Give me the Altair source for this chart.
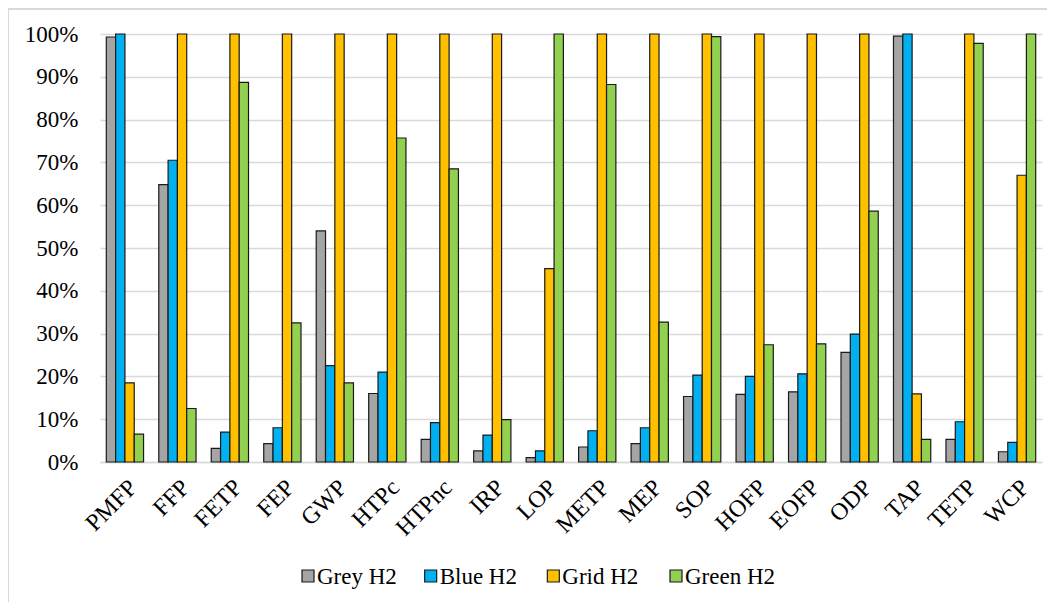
import altair as alt
import pandas as pd

categories = ["PMFP", "FFP", "FETP", "FEP", "GWP", "HTPc", "HTPnc", "IRP", "LOP",
              "METP", "MEP", "SOP", "HOFP", "EOFP", "ODP", "TAP", "TETP", "WCP"]
series = ["Grey H2", "Blue H2", "Grid H2", "Green H2"]
colors = ["#A5A5A5", "#00B0F0", "#FFC000", "#92D050"]

grey = [99.3, 64.8, 3.2, 4.3, 54.0, 16.0, 5.3, 2.6, 1.0, 3.5, 4.3, 15.3, 15.8, 16.4, 25.6, 99.5, 5.3, 2.4]
blue = [100, 70.5, 7.0, 8.0, 22.5, 21.0, 9.2, 6.3, 2.6, 7.3, 8.0, 20.3, 20.0, 20.6, 29.9, 100, 9.4, 4.6]
grid = [18.5, 100, 100, 100, 100, 100, 100, 100, 45.2, 100, 100, 100, 100, 100, 100, 15.9, 100, 67.0]
green = [6.5, 12.5, 88.7, 32.5, 18.5, 75.7, 68.5, 9.9, 100, 88.2, 32.7, 99.4, 27.4, 27.6, 58.6, 5.3, 97.8, 100]

rows = []
for s, vals in zip(series, [grey, blue, grid, green]):
    for c, v in zip(categories, vals):
        rows.append({"cat": c, "series": s, "value": v / 100.0})
df = pd.DataFrame(rows)
legend_df = pd.DataFrame({"series": series})

FONT = "Liberation Serif"
color_scale = alt.Scale(domain=series, range=colors)

bars = alt.Chart(df).mark_bar(stroke="#1A1A1A", strokeWidth=1.2).encode(
    x=alt.X("cat:N", sort=categories, title=None,
            scale=alt.Scale(paddingInner=0.29, paddingOuter=0.12),
            axis=alt.Axis(labelAngle=-45, labelFont=FONT, labelFontSize=24,
                          labelColor="#000000", ticks=False, domain=True,
                          domainColor="#D9D9D9", domainWidth=1.5, labelPadding=13)),
    xOffset=alt.XOffset("series:N", sort=series,
                        scale=alt.Scale(paddingInner=0, paddingOuter=0)),
    y=alt.Y("value:Q", title=None,
            scale=alt.Scale(domain=[0, 1], nice=False),
            axis=alt.Axis(format=".0%", values=[i / 10 for i in range(11)],
                          labelFont=FONT, labelFontSize=23, labelColor="#000000",
                          ticks=False, domain=False, gridColor="#D9D9D9",
                          gridWidth=1.5, labelPadding=22)),
    color=alt.Color("series:N", sort=series, scale=color_scale, legend=None),
)

leg_x = alt.X("series:N", sort=series, axis=None,
              scale=alt.Scale(type="point", range=[208, 576], padding=0))

leg_sym = alt.Chart(legend_df).mark_square(size=144, stroke="#1A1A1A", strokeWidth=1.2,
                                           opacity=1, clip=False).encode(
    x=leg_x, y=alt.value(542),
    color=alt.Color("series:N", sort=series, scale=color_scale, legend=None),
)
leg_txt = alt.Chart(legend_df).mark_text(font=FONT, fontSize=23, align="left",
                                         baseline="middle", dx=9, dy=1, color="#000000",
                                         clip=False).encode(
    x=leg_x, y=alt.value(542), text="series:N"
)

frame = alt.Chart(legend_df).mark_rect(fill=None, stroke="#D9D9D9", strokeWidth=1.5,
                                       clip=False).encode(
    x=alt.value(-92), x2=alt.value(1000), y=alt.value(-25), y2=alt.value(640)
)

chart = alt.layer(frame, bars, leg_sym, leg_txt).resolve_scale(x="independent").properties(
    width=942, height=428,
    autosize=alt.AutoSizeParams(type="none"),
    padding={"left": 92, "top": 26, "right": 5, "bottom": 140},
).configure(background="#FFFFFF", font=FONT).configure_view(stroke=None)

chart.save("out.html", embed_options={"renderer": "svg", "actions": False})
